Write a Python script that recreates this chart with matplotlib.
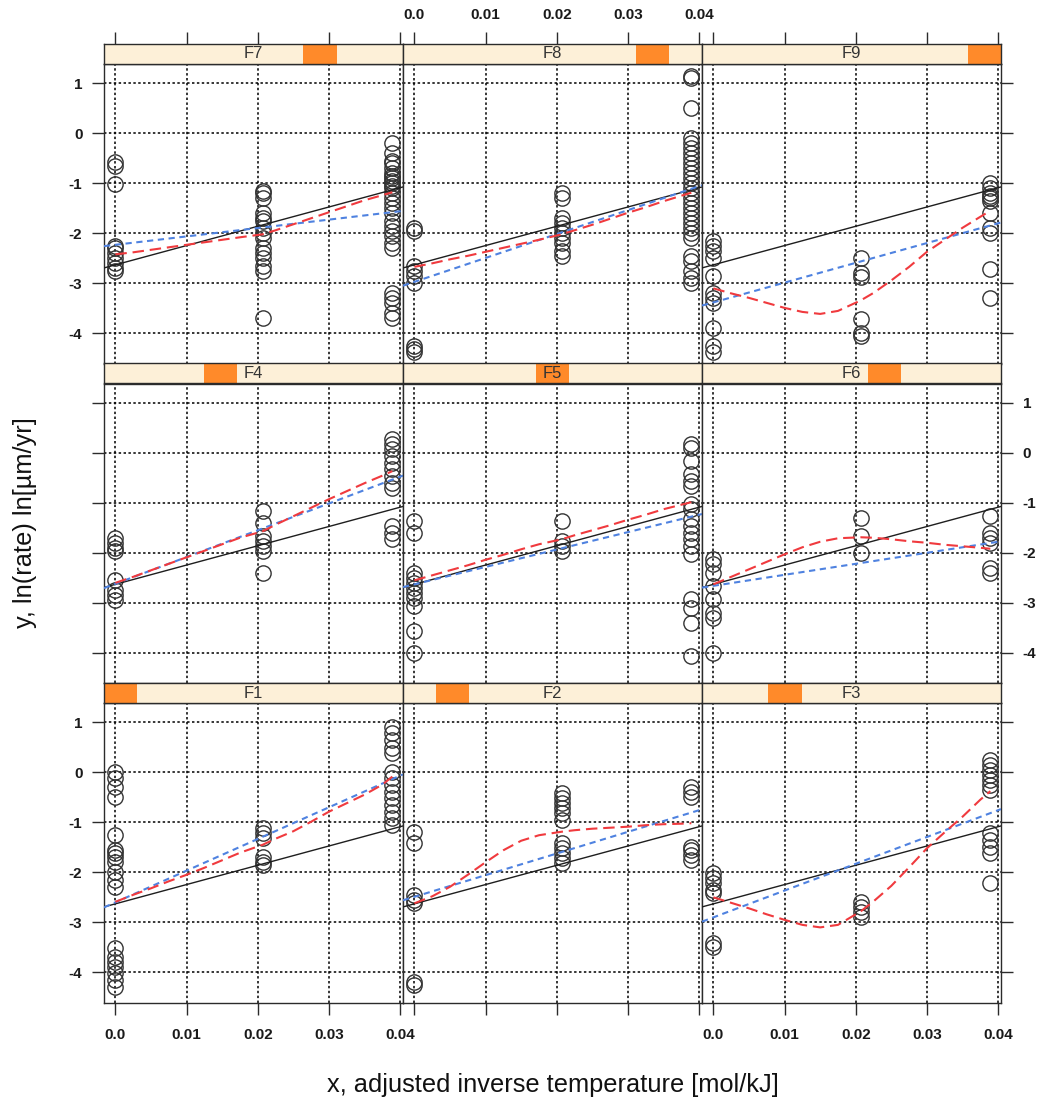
import matplotlib
matplotlib.use("Agg")
import matplotlib.pyplot as plt
from matplotlib.patches import Rectangle

plt.rcParams['font.family'] = ['Liberation Sans', 'DejaVu Sans']

# x positions of the three measurement groups
x_levels = [0.0, 0.0207, 0.0389]

# ln(rate) observations per panel, one list per x group
F7_y = ([-0.58, -0.65, -1.02, -2.25, -2.3, -2.4, -2.5, -2.6, -2.7, -2.75],
        [-1.15, -1.2, -1.3, -1.6, -1.7, -1.75, -1.9, -2.0, -2.1, -2.3, -2.4, -2.5, -2.65, -2.75, -3.7],
        [-0.2, -0.4, -0.55, -0.6, -0.7, -0.8, -0.85, -0.9, -0.95, -1.0, -1.05, -1.1, -1.2, -1.3,
         -1.4, -1.5, -1.6, -1.75, -1.85, -1.95, -2.05, -2.2, -2.3, -3.2, -3.3, -3.4, -3.6, -3.7])
F8_y = ([-1.9, -1.95, -2.65, -2.75, -2.85, -3.0, -4.25, -4.32, -4.37],
        [-1.2, -1.3, -1.7, -1.8, -1.9, -2.0, -2.1, -2.2, -2.35, -2.45],
        [1.15, 1.1, 0.5, -0.1, -0.2, -0.3, -0.4, -0.5, -0.6, -0.7, -0.8, -0.9, -1.0, -1.1, -1.2,
         -1.3, -1.4, -1.5, -1.6, -1.7, -1.8, -1.9, -2.0, -2.1, -2.45, -2.55, -2.75, -2.9, -3.0])
F9_y = ([-2.15, -2.25, -2.35, -2.5, -2.85, -3.2, -3.3, -3.4, -3.9, -4.25, -4.37],
        [-2.5, -2.8, -2.87, -3.72, -4.0, -4.05],
        [-1.0, -1.1, -1.2, -1.25, -1.3, -1.35, -1.6, -1.9, -2.0, -2.72, -3.3])
F4_y = ([-1.7, -1.8, -1.9, -1.97, -2.55, -2.75, -2.85, -2.95],
        [-1.17, -1.4, -1.67, -1.77, -1.87, -1.97, -2.4],
        [0.27, 0.17, 0.07, -0.07, -0.2, -0.33, -0.47, -0.6, -0.7, -1.47, -1.6, -1.73])
F5_y = ([-1.37, -1.6, -2.4, -2.5, -2.6, -2.7, -2.8, -2.9, -3.07, -3.57, -4.0],
        [-1.37, -1.77, -1.87, -1.97],
        [0.17, 0.1, -0.17, -0.43, -0.57, -0.67, -1.03, -1.13, -1.33, -1.47, -1.6, -1.73, -1.87,
         -2.03, -2.93, -3.1, -3.4, -4.07])
F6_y = ([-2.13, -2.23, -2.4, -2.67, -2.93, -3.2, -3.3, -4.0],
        [-1.3, -1.67, -2.0],
        [-1.27, -1.6, -1.7, -1.8, -2.3, -2.4])
F1_y = ([0.0, -0.12, -0.29, -0.49, -1.25, -1.55, -1.62, -1.69, -1.79, -1.99, -2.15, -2.29,
         -3.52, -3.69, -3.79, -3.89, -4.02, -4.15, -4.29],
        [-1.12, -1.22, -1.32, -1.69, -1.79, -1.85],
        [0.91, 0.78, 0.65, 0.48, 0.38, 0.01, -0.12, -0.25, -0.39, -0.52, -0.65, -0.79, -0.92, -1.05])
F2_y = ([-1.19, -1.42, -2.45, -2.55, -2.62, -4.19, -4.25],
        [-0.42, -0.52, -0.62, -0.72, -0.82, -0.95, -1.42, -1.52, -1.62, -1.72, -1.82],
        [-0.29, -0.39, -0.49, -1.49, -1.55, -1.65, -1.75])
F3_y = ([-2.02, -2.12, -2.22, -2.35, -2.42, -3.42, -3.49],
        [-2.59, -2.69, -2.79, -2.89],
        [0.25, 0.15, 0.05, -0.05, -0.15, -0.25, -0.35, -1.22, -1.35, -1.49, -1.62, -2.22])

# loess smooth per panel (red), read at these x values
smooth_x = [0.0, 0.0025, 0.005, 0.0075, 0.01, 0.0125, 0.015, 0.0175, 0.0207,
            0.0225, 0.025, 0.0275, 0.03, 0.0325, 0.035, 0.0375, 0.0389]
F7_smooth = [-2.42, -2.38, -2.33, -2.28, -2.23, -2.18, -2.13, -2.08, -2.02,
             -1.94, -1.82, -1.70, -1.58, -1.46, -1.34, -1.24, -1.18]
F8_smooth = [-2.67, -2.60, -2.52, -2.45, -2.37, -2.29, -2.21, -2.13, -2.02,
             -1.94, -1.83, -1.71, -1.59, -1.48, -1.36, -1.25, -1.19]
F9_smooth = [-3.10, -3.20, -3.29, -3.39, -3.49, -3.57, -3.61, -3.55, -3.34,
             -3.19, -2.94, -2.67, -2.37, -2.13, -1.89, -1.67, -1.55]
F4_smooth = [-2.60, -2.48, -2.35, -2.22, -2.09, -1.96, -1.83, -1.70, -1.57,
             -1.44, -1.27, -1.10, -0.93, -0.77, -0.61, -0.46, -0.37]
F5_smooth = [-2.55, -2.45, -2.35, -2.25, -2.14, -2.04, -1.93, -1.83, -1.73,
             -1.65, -1.55, -1.45, -1.34, -1.24, -1.13, -1.04, -0.99]
F6_smooth = [-2.63, -2.48, -2.33, -2.18, -2.03, -1.89, -1.78, -1.71, -1.69,
             -1.70, -1.73, -1.77, -1.80, -1.84, -1.87, -1.90, -1.92]
F1_smooth = [-2.59, -2.45, -2.32, -2.18, -2.05, -1.91, -1.76, -1.61, -1.45,
             -1.33, -1.18, -0.99, -0.79, -0.62, -0.45, -0.25, -0.09]
F2_smooth = [-2.62, -2.48, -2.29, -2.05, -1.80, -1.56, -1.37, -1.26, -1.19,
             -1.16, -1.13, -1.11, -1.09, -1.06, -1.04, -1.03, -1.02]
F3_smooth = [-2.50, -2.61, -2.72, -2.84, -2.95, -3.05, -3.10, -3.05, -2.78,
             -2.58, -2.27, -1.90, -1.52, -1.20, -0.89, -0.55, -0.38]

# per-panel linear fit (blue) and pooled fit (black), values at x = 0 and x = 0.04
fit_x = [0.0, 0.04]
F7_fit = [-2.23, -1.56]
F8_fit = [-2.97, -1.06]
F9_fit = [-3.38, -1.80]
F4_fit = [-2.62, -0.48]
F5_fit = [-2.63, -1.24]
F6_fit = [-2.66, -1.78]
F1_fit = [-2.60, -0.07]
F2_fit = [-2.49, -0.76]
F3_fit = [-2.90, -0.76]
pooled_fit = [-2.63, -1.09]

panel_names = [["F7", "F8", "F9"], ["F4", "F5", "F6"], ["F1", "F2", "F3"]]
panel_level = {"F1": 0, "F2": 1, "F3": 2, "F4": 3, "F5": 4, "F6": 5, "F7": 6, "F8": 7, "F9": 8}
panel_points = {"F1": F1_y, "F2": F2_y, "F3": F3_y, "F4": F4_y, "F5": F5_y,
                "F6": F6_y, "F7": F7_y, "F8": F8_y, "F9": F9_y}
panel_smooth = {"F1": F1_smooth, "F2": F2_smooth, "F3": F3_smooth, "F4": F4_smooth,
                "F5": F5_smooth, "F6": F6_smooth, "F7": F7_smooth, "F8": F8_smooth,
                "F9": F9_smooth}
panel_fit = {"F1": F1_fit, "F2": F2_fit, "F3": F3_fit, "F4": F4_fit, "F5": F5_fit,
             "F6": F6_fit, "F7": F7_fit, "F8": F8_fit, "F9": F9_fit}

x_ticks = [0.0, 0.01, 0.02, 0.03, 0.04]
x_ticklabels = ["0.0", "0.01", "0.02", "0.03", "0.04"]
y_ticks = [-4, -3, -2, -1, 0, 1]
y_ticklabels = ["-4", "-3", "-2", "-1", "0", "1"]

XLIM = (-0.0016, 0.0404)
YLIM = (-4.6, 1.38)

W, H = 1040, 1103
fig = plt.figure(figsize=(W / 100, H / 100), dpi=100, facecolor='white')

col_left = [104, 403, 702]
row_top = [64, 383.5, 703]
pw, ph, sh = 299, 299.5, 20

strip_bg = '#fdf0d8'
strip_fg = '#ff8a2a'
edge = '#2b2b2b'
tick_kw = dict(direction='out', length=8.5, width=1.0, color=edge, pad=7,
               labelsize=11, labelcolor='#1a1a1a')


def frac_rect(left, top, w, h):
    return [left / W, 1 - (top + h) / H, w / W, h / H]


for r in range(3):
    for c in range(3):
        name = panel_names[r][c]
        ax = fig.add_axes(frac_rect(col_left[c], row_top[r], pw, ph))
        ax.set_xlim(*XLIM)
        ax.set_ylim(*YLIM)

        # dotted reference grid
        for xv in x_ticks:
            ax.axvline(xv, color='black', lw=1.1, ls=(0, (1.6, 1.6)), zorder=0)
        for yv in y_ticks:
            ax.axhline(yv, color='black', lw=1.1, ls=(0, (1.6, 1.6)), zorder=0)

        for xv, ys in zip(x_levels, panel_points[name]):
            ax.plot([xv] * len(ys), ys, ls='none', marker='o', ms=11,
                    mfc='none', mec='#333333', mew=1.0, zorder=2)

        ax.axline((fit_x[0], pooled_fit[0]), (fit_x[1], pooled_fit[1]),
                  color='#1e1e1e', lw=1.0, zorder=3)
        fit = panel_fit[name]
        ax.axline((fit_x[0], fit[0]), (fit_x[1], fit[1]),
                  color='#4f82e0', lw=1.5, ls=(0, (3.0, 2.2)), zorder=3)
        ax.plot(smooth_x, panel_smooth[name], color='#f03a3e', lw=1.5,
                ls=(0, (5.5, 2.8)), zorder=4)

        for sp in ax.spines.values():
            sp.set_color(edge)
            sp.set_linewidth(1.0)

        ax.set_xticks(x_ticks)
        ax.set_xticklabels(x_ticklabels, fontweight='bold')
        ax.set_yticks(y_ticks)
        ax.set_yticklabels(y_ticklabels, fontweight='bold')
        ax.tick_params(**tick_kw)
        ax.tick_params(axis='x', bottom=(r == 2), top=False,
                       labelbottom=(r == 2 and c != 1), labeltop=False, pad=10)
        ax.tick_params(axis='y', left=(c == 0), right=(c == 2),
                       labelleft=(c == 0 and r != 1), labelright=(c == 2 and r == 1))

        # strip with shaded level block
        sx = fig.add_axes(frac_rect(col_left[c], row_top[r] - sh, pw, sh))
        sx.set_xlim(*XLIM)
        sx.set_ylim(0, 1)
        sx.set_facecolor(strip_bg)
        span = XLIM[1] - XLIM[0]
        lvl = panel_level[name]
        sx.add_patch(Rectangle((XLIM[0] + span * lvl / 9, 0), span / 9, 1,
                               facecolor=strip_fg, edgecolor='none'))
        sx.text(0.5, 0.5, name, transform=sx.transAxes, ha='center', va='center',
                fontsize=12, color='#333333')
        for sp in sx.spines.values():
            sp.set_color(edge)
            sp.set_linewidth(1.0)
        sx.set_yticks([])
        sx.set_xticks(x_ticks)
        sx.set_xticklabels(x_ticklabels, fontweight='bold')
        sx.tick_params(**tick_kw)
        sx.tick_params(axis='x', bottom=False, labelbottom=False,
                       top=(r == 0), labeltop=(r == 0 and c == 1))

fig.text(553 / W, 1 - 1085 / H, 'x, adjusted inverse temperature [mol/kJ]',
         ha='center', va='center', fontsize=18.3, color='#111111')
fig.text(25 / W, 1 - 523 / H, 'y, ln(rate) ln[\u00b5m/yr]', rotation=90,
         ha='center', va='center', fontsize=18.3, color='#111111')

fig.savefig('out.png', dpi=100, facecolor='white')
